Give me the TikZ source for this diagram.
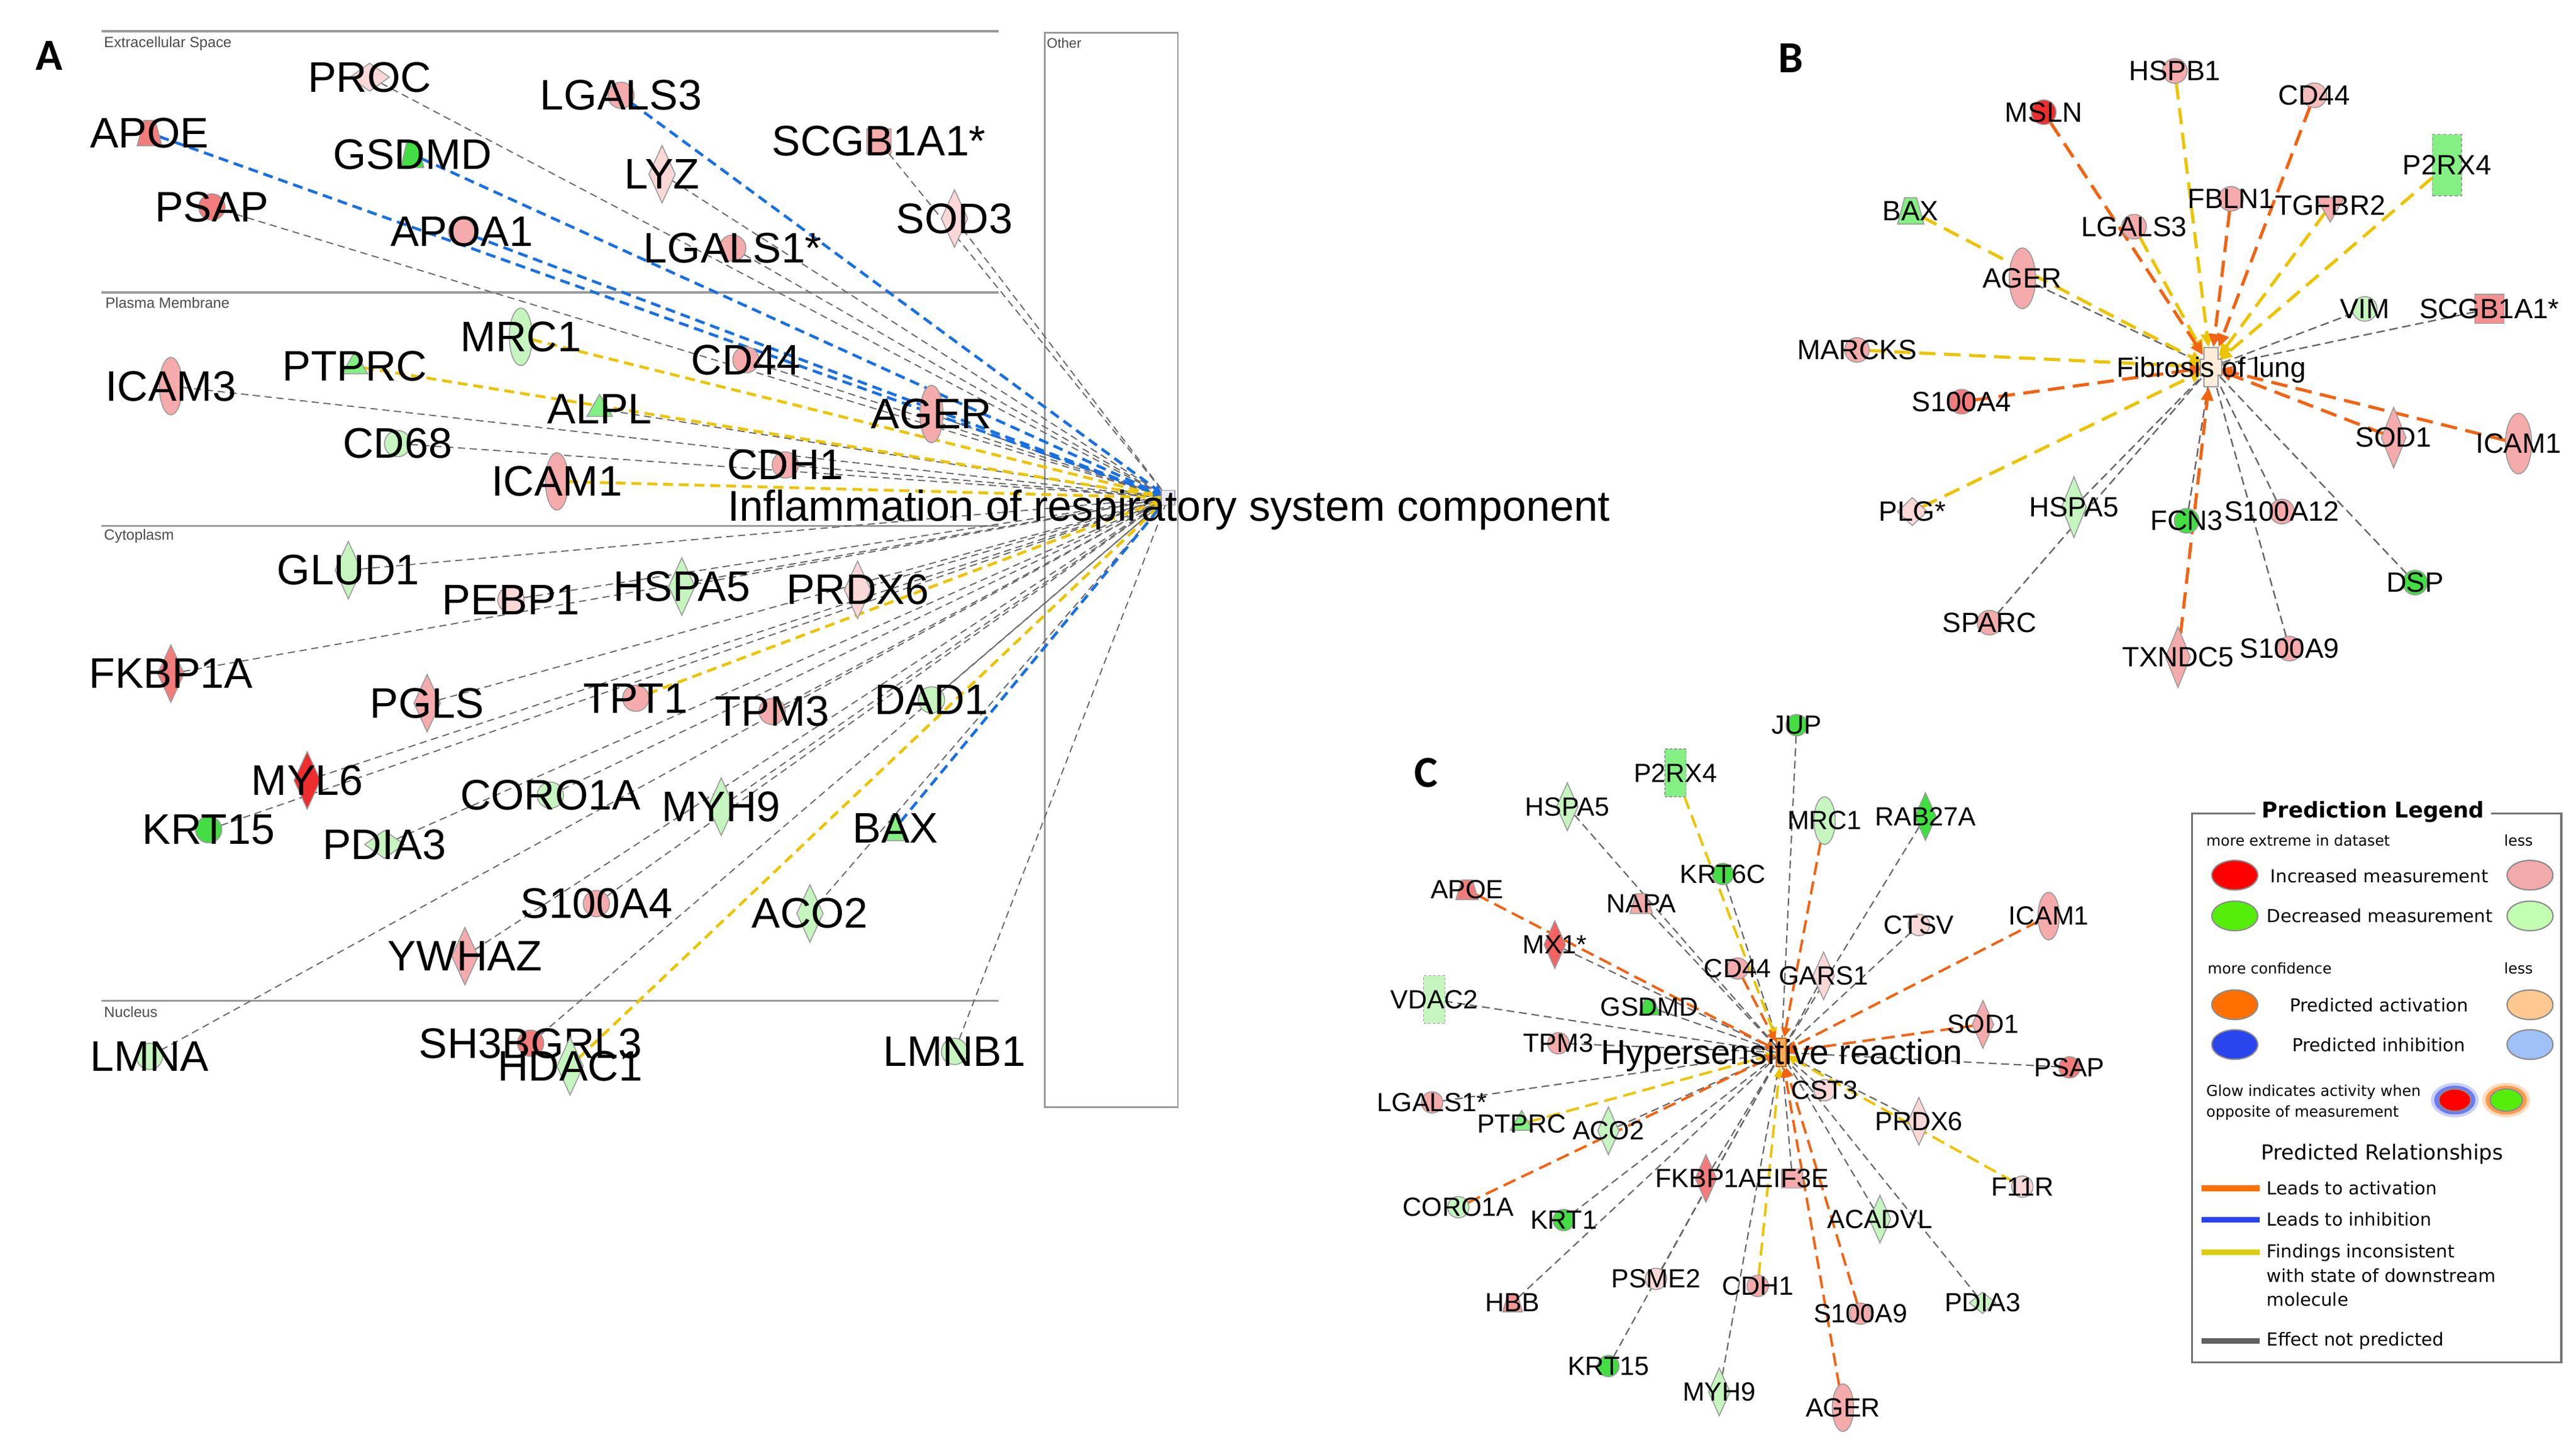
\documentclass[tikz,border=0pt]{standalone}
\usepackage{fontspec}
\setmainfont{Liberation Sans}
\newfontfamily\dvs{DejaVu Sans}
\newfontfamily\carl{Carlito}
\usetikzlibrary{shapes.geometric,arrows.meta}
\pgfdeclarelayer{bg}
\pgfdeclarelayer{edges}
\pgfsetlayers{bg,edges,main}
\definecolor{rd}{HTML}{EE2E2E}
\definecolor{sal}{HTML}{F27C7C}
\definecolor{pk}{HTML}{F5ABAB}
\definecolor{lpk}{HTML}{FBD8D8}
\definecolor{gr}{HTML}{44DD44}
\definecolor{mg}{HTML}{84F084}
\definecolor{lg}{HTML}{C6F5C0}
\definecolor{bordc}{HTML}{9A9A9A}
\definecolor{egray}{HTML}{666666}
\definecolor{eblue}{HTML}{1A6FE0}
\definecolor{eyel}{HTML}{EBC400}
\definecolor{eor}{HTML}{F06414}
\definecolor{lred}{HTML}{FF0000}
\definecolor{lpink}{HTML}{F2AAAA}
\definecolor{lgreen}{HTML}{55EE0A}
\definecolor{llgreen}{HTML}{C2FFB2}
\definecolor{lorange}{HTML}{FF7000}
\definecolor{llorange}{HTML}{FFC890}
\definecolor{lblue}{HTML}{2A44EE}
\definecolor{llblue}{HTML}{A0C0F8}
\definecolor{lyel}{HTML}{DCCB10}
\newcommand\gn[5]{\node[#2] (#1) at (#3) {};\node[#4] (#1t) at (#3) {#5};}
\tikzset{
  sh/.style={draw=bordc,line width=0.3pt,inner sep=0.25pt,outer sep=0pt},
  trap/.style={sh,trapezium,trapezium left angle=60,trapezium right angle=60,trapezium stretches=true},
  circA/.style={sh,circle,minimum size=8pt},
  ellA/.style={sh,ellipse,minimum width=7pt,minimum height=17.5pt},
  diaA/.style={sh,diamond,minimum width=8pt,minimum height=17.5pt},
  hdiaA/.style={sh,diamond,minimum width=12pt,minimum height=8.5pt},
  trapA/.style={trap,minimum width=7.5pt,minimum height=7.7pt},
  triA/.style={sh,regular polygon,regular polygon sides=3,minimum size=9pt},
  sqA/.style={sh,rectangle,minimum size=7.5pt},
  labA/.style={inner sep=0pt,font=\fontsize{13}{13}\selectfont},
  circB/.style={sh,circle,minimum size=7.5pt},
  ellB/.style={sh,ellipse,minimum width=8pt,minimum height=18.5pt},
  diaB/.style={sh,diamond,minimum width=7.5pt,minimum height=18.5pt},
  hdiaB/.style={sh,diamond,minimum width=9pt,minimum height=8.5pt},
  trapB/.style={trap,minimum width=8pt,minimum height=8pt},
  itriB/.style={sh,regular polygon,regular polygon sides=3,shape border rotate=180,minimum size=10pt},
  sqB/.style={sh,rectangle,minimum size=8.9pt},
  rectB/.style={sh,rectangle,dash pattern=on 1pt off 0.7pt,minimum width=8.9pt,minimum height=18.7pt},
  labB/.style={inner sep=0pt,font=\fontsize{8.5}{8.5}\selectfont},
  circC/.style={sh,circle,minimum size=6.5pt},
  ellC/.style={sh,ellipse,minimum width=6.5pt,minimum height=14.5pt},
  diaC/.style={sh,diamond,minimum width=6.5pt,minimum height=14.5pt},
  hdiaC/.style={sh,diamond,minimum width=8pt,minimum height=6.5pt},
  trapC/.style={trap,minimum width=6.8pt,minimum height=6pt},
  triC/.style={sh,regular polygon,regular polygon sides=3,minimum size=8pt},
  sqC/.style={sh,rectangle,minimum width=6.4pt,minimum height=5.8pt},
  rectC/.style={sh,rectangle,dash pattern=on 0.8pt off 0.6pt,minimum width=6.5pt,minimum height=14.5pt},
  labC/.style={inner sep=0pt,font=\fontsize{8}{8}\selectfont},
  comp/.style={draw=bordc,line width=0.6pt},
  comptext/.style={inner sep=0pt,anchor=west,text=black!70,font=\fontsize{4.5}{4.5}\selectfont},
  panel/.style={inner sep=0pt,font=\carl\bfseries\fontsize{13.5}{13.5}\selectfont},
  ga/.style={draw=egray,line width=0.35pt,dash pattern=on 2.2pt off 1.4pt},
  ba/.style={draw=eblue,line width=0.85pt,dash pattern=on 3pt off 1.8pt,-{Triangle[length=2.4pt,width=2.4pt]}},
  ya/.style={draw=eyel,line width=0.85pt,dash pattern=on 3pt off 1.8pt,-{Triangle[length=2.4pt,width=2.4pt]}},
  gb/.style={draw=egray,line width=0.45pt,dash pattern=on 2.6pt off 1.4pt},
  ob/.style={draw=eor,line width=0.95pt,dash pattern=on 5pt off 2.6pt,-{Triangle[length=4pt,width=3.6pt]}},
  yb/.style={draw=eyel,line width=0.95pt,dash pattern=on 5pt off 2.6pt,-{Triangle[length=4pt,width=3.6pt]}},
  gc/.style={draw=egray,line width=0.4pt,dash pattern=on 2.4pt off 1.4pt},
  oc/.style={draw=eor,line width=0.75pt,dash pattern=on 4pt off 2pt,-{Triangle[length=3pt,width=2.8pt]}},
  yc/.style={draw=eyel,line width=0.75pt,dash pattern=on 4pt off 2pt,-{Triangle[length=3pt,width=2.8pt]}},
  legell/.style={draw=black!45,line width=0.4pt,ellipse,minimum width=14pt,minimum height=9pt,inner sep=0.25pt},
  legtxt/.style={inner sep=0pt,font=\dvs\fontsize{5.45}{5.45}\selectfont},
  legsmall/.style={inner sep=0pt,font=\dvs\fontsize{4.5}{4.5}\selectfont},
  legline/.style={line width=1.7pt},
}
\begin{document}
\begin{tikzpicture}[x=0.5pt,y=-0.5pt]
\begin{pgfonlayer}{bg}
\fill[white] (0,0) rectangle (1568,883.8);
\end{pgfonlayer}
\useasboundingbox (0,0) rectangle (1568,883.8);

% ---------------- Panel A ----------------
\node[panel] (pA) at (30,34) {A};
\begin{pgfonlayer}{bg}
\draw[comp] (62,19) -- (608,19);
\draw[comp] (62,178) -- (608,178);
\draw[comp] (62,320) -- (608,320);
\draw[comp] (62,609) -- (608,609);
\draw[draw=bordc,line width=0.5pt] (636,20) rectangle (717,674);
\end{pgfonlayer}
\node[comptext] (tES) at (63,26.7) {Extracellular Space};
\node[comptext] (tPM) at (63.8,184.3) {Plasma Membrane};
\node[comptext] (tCY) at (63,326.5) {Cytoplasm};
\node[comptext] (tNU) at (63,615.9) {Nucleus};
\node[comptext,font=\fontsize{4.2}{4.2}\selectfont] (tOT) at (636.8,26.4) {Other};

\node[sh,rectangle,fill=blue!8,minimum width=4pt,minimum height=4.5pt] (aC) at (711,303) {};
\node[inner sep=0pt,anchor=base,font=\fontsize{13.1}{13.1}\selectfont] (aCt) at (711.5,317) {Inflammation of respiratory system component};

\gn{aPROC}{hdiaA,fill=lpk}{225,47}{labA}{PROC}
\gn{aAPOE}{trapA,fill=sal}{91,81}{labA}{APOE}
\gn{aLGALS3}{circA,fill=pk}{378,58}{labA}{LGALS3}
\gn{aGSDMD}{trapA,fill=gr,minimum width=7pt,minimum height=8pt}{251,94}{labA}{GSDMD}
\gn{aSCGB}{sqA,fill=pk}{535,86}{labA}{SCGB1A1*}
\gn{aLYZ}{diaA,fill=lpk}{403,106}{labA}{LYZ}
\gn{aPSAP}{circA,fill=sal}{129,126}{labA}{PSAP}
\gn{aSOD3}{diaA,fill=lpk}{581,133}{labA}{SOD3}
\gn{aAPOA1}{circA,fill=pk}{281,141}{labA}{APOA1}
\gn{aLGALS1}{circA,fill=pk}{446,151}{labA}{LGALS1*}
\gn{aMRC1}{ellA,fill=lg}{317,205}{labA}{MRC1}
\gn{aPTPRC}{triA,fill=mg}{216,223}{labA}{PTPRC}
\gn{aICAM3}{ellA,fill=pk}{104,235}{labA}{ICAM3}
\gn{aCD44}{circA,fill=pk}{454,219}{labA}{CD44}
\gn{aALPL}{triA,fill=mg}{365,249}{labA}{ALPL}
\gn{aAGER}{ellA,fill=pk}{567,252}{labA}{AGER}
\gn{aCD68}{circA,fill=lg}{242,270}{labA}{CD68}
\gn{aICAM1}{ellA,fill=pk}{339,293}{labA}{ICAM1}
\gn{aCDH1}{circA,fill=pk}{478,283}{labA}{CDH1}
\gn{aGLUD1}{diaA,fill=lg}{212,347}{labA}{GLUD1}
\gn{aPEBP1}{circA,fill=lpk}{311,365}{labA}{PEBP1}
\gn{aHSPA5}{diaA,fill=lg}{415,357}{labA}{HSPA5}
\gn{aPRDX6}{diaA,fill=lpk}{522,359}{labA}{PRDX6}
\gn{aFKBP1A}{diaA,fill=sal}{104,410}{labA}{FKBP1A}
\gn{aPGLS}{diaA,fill=pk}{260,428}{labA}{PGLS}
\gn{aTPT1}{circA,fill=pk}{387,425}{labA}{TPT1}
\gn{aTPM3}{circA,fill=pk}{470,433}{labA}{TPM3}
\gn{aDAD1}{circA,fill=lg}{567,426}{labA}{DAD1}
\gn{aMYL6}{diaA,fill=rd}{187,475}{labA}{MYL6}
\gn{aKRT15}{circA,fill=gr}{127,505}{labA}{KRT15}
\gn{aCORO1A}{circA,fill=lg}{335,484}{labA}{CORO1A}
\gn{aMYH9}{diaA,fill=lg}{439,491}{labA}{MYH9}
\gn{aBAX}{trapA,fill=mg,minimum width=5.3pt}{545,504}{labA}{BAX}
\gn{aPDIA3}{hdiaA,fill=lg}{234,514}{labA}{PDIA3}
\gn{aS100A4}{circA,fill=pk}{363,550}{labA}{S100A4}
\gn{aACO2}{diaA,fill=lg}{493,556}{labA}{ACO2}
\gn{aYWHAZ}{diaA,fill=pk}{283,582}{labA}{YWHAZ}
\gn{aLMNA}{circA,fill=lg}{91,643}{labA}{LMNA}
\gn{aSH3BGRL3}{circA,fill=sal}{323,635}{labA}{SH3BGRL3}
\gn{aHDAC1}{diaA,fill=lg}{347,649}{labA}{HDAC1}
\gn{aLMNB1}{circA,fill=lg}{581,640}{labA}{LMNB1}

\begin{pgfonlayer}{edges}
\foreach \n in {aPROC,aSCGB,aLYZ,aPSAP,aSOD3,aLGALS1,aICAM3,aCD44,aALPL,aAGER,aCD68,aCDH1,aGLUD1,aPEBP1,aHSPA5,aPRDX6,aFKBP1A,aPGLS,aTPM3,aDAD1,aMYL6,aKRT15,aCORO1A,aMYH9,aPDIA3,aS100A4,aACO2,aYWHAZ,aLMNA,aSH3BGRL3,aLMNB1}
  \draw[ga] (\n) -- (aC);
\foreach \n in {aMRC1,aPTPRC,aICAM1,aTPT1,aHDAC1}
  \draw[ya] (\n) -- (aC);
\foreach \n in {aAPOE,aGSDMD,aLGALS3,aAPOA1,aBAX}
  \draw[ba] (\n) -- (aC);
\end{pgfonlayer}

% ---------------- Panel B ----------------
\node[panel] (pB) at (1090,35.5) {B};
\node[inner sep=0pt,minimum width=4.4pt,minimum height=11.8pt] (bC) at (1345.8,223.5) {};
\filldraw[fill=orange!15,draw=bordc,line width=0.4pt]
  (1341.4,211.7) -- (1350.2,211.7) -- (1350.2,218.5) -- (1352.3,218.5) -- (1352.3,228.5) -- (1350.2,228.5) -- (1350.2,235.3) -- (1341.4,235.3) -- (1341.4,228.5) -- (1339.3,228.5) -- (1339.3,218.5) -- (1341.4,218.5) -- cycle;
\node[inner sep=0pt,anchor=base,font=\fontsize{8.5}{8.5}\selectfont] (bCt) at (1346,229.5) {Fibrosis of lung};

\gn{bHSPB1}{circB,fill=pk}{1323.8,43.2}{labB}{HSPB1}
\gn{bMSLN}{circB,fill=rd}{1244,68.3}{labB}{MSLN}
\gn{bCD44}{circB,fill=pk!80}{1408.7,58}{labB}{CD44}
\gn{bP2RX4}{rectB,fill=mg}{1489.5,100.5}{labB}{P2RX4}
\gn{bBAX}{trapB,fill=mg}{1163,128.4}{labB}{BAX}
\gn{bFBLN1}{circB,fill=pk}{1358,121}{labB}{FBLN1}
\gn{bTGFBR2}{itriB,fill=pk}{1418.4,125.2}{labB}{TGFBR2}
\gn{bLGALS3}{circB,fill=pk}{1299,138}{labB}{LGALS3}
\gn{bAGER}{ellB,fill=pk}{1231,169.4}{labB}{AGER}
\gn{bVIM}{circB,fill=lg}{1439.4,188}{labB}{VIM}
\gn{bSCGB}{sqB,fill=sal!85}{1515.3,188}{labB}{SCGB1A1*}
\gn{bMARCKS}{circB,fill=pk}{1130.3,213}{labB}{MARCKS}
\gn{bS100A4}{circB,fill=sal}{1194,244.5}{labB}{S100A4}
\gn{bSOD1}{diaB,fill=pk}{1457,266.4}{labB}{SOD1}
\gn{bICAM1}{ellB,fill=pk}{1533,270}{labB}{ICAM1}
\gn{bPLG}{hdiaB,fill=lpk}{1164,311.4}{labB}{PLG*}
\gn{bHSPA5}{diaB,fill=lg}{1262.4,308.7}{labB}{HSPA5}
\gn{bFCN3}{circB,fill=gr}{1331,317}{labB}{FCN3}
\gn{bS100A12}{circB,fill=pk}{1389,311.4}{labB}{S100A12}
\gn{bDSP}{circB,fill=gr}{1470,354.6}{labB}{DSP}
\gn{bSPARC}{circB,fill=pk}{1211,379}{labB}{SPARC}
\gn{bTXNDC5}{diaB,fill=pk}{1325.7,400}{labB}{TXNDC5}
\gn{bS100A9}{circB,fill=pk}{1393.6,394.8}{labB}{S100A9}

\begin{pgfonlayer}{edges}
\foreach \n in {bAGER,bVIM,bSCGB,bHSPA5,bFCN3,bS100A12,bDSP,bSPARC,bS100A9}
  \draw[gb] (\n) -- (bC);
\foreach \n in {bHSPB1,bP2RX4,bBAX,bTGFBR2,bLGALS3,bMARCKS,bPLG}
  \draw[yb] (\n) -- (bC);
\foreach \n in {bMSLN,bCD44,bFBLN1,bS100A4,bSOD1,bICAM1,bTXNDC5}
  \draw[ob] (\n) -- (bC);
\end{pgfonlayer}

% ---------------- Panel C ----------------
\node[panel] (pC) at (868,470.5) {C};
\node[draw=orange!80!black,fill=orange!65,line width=0.4pt,inner sep=0.25pt,minimum width=3pt,minimum height=8.7pt] (cC) at (1084.3,640.6) {};
\node[inner sep=0pt,anchor=base,font=\fontsize{10.6}{10.6}\selectfont] (cCt) at (1084.5,648) {Hypersensitive reaction};

\gn{cJUP}{circC,fill=gr}{1093.6,441.4}{labC}{JUP}
\gn{cP2RX4}{rectC,fill=mg}{1019.8,470.4}{labC}{P2RX4}
\gn{cHSPA5}{diaC,fill=lg}{954,491}{labC}{HSPA5}
\gn{cMRC1}{ellC,fill=lg}{1110.6,499.5}{labC}{MRC1}
\gn{cRAB27A}{diaC,fill=gr!90!green}{1172,497}{labC}{RAB27A}
\gn{cKRT6C}{circC,fill=gr}{1048.7,532}{labC}{KRT6C}
\gn{cAPOE}{trapC,fill=sal}{893,541.6}{labC}{APOE}
\gn{cNAPA}{trapC,fill=pk}{999,550}{labC}{NAPA}
\gn{cMX1}{diaC,fill=sal!80!red}{946.4,575}{labC}{MX1*}
\gn{cCTSV}{circC,fill=lpk}{1168,563}{labC}{CTSV}
\gn{cICAM1}{ellC,fill=pk}{1247,557.6}{labC}{ICAM1}
\gn{cCD44}{circC,fill=pk}{1057.7,589.5}{labC}{CD44}
\gn{cGARS1}{diaC,fill=lpk}{1110,594}{labC}{GARS1}
\gn{cVDAC2}{rectC,fill=lg}{873,608.4}{labC}{VDAC2}
\gn{cGSDMD}{trapC,fill=gr,minimum width=6.3pt,minimum height=4.8pt}{1004,613}{labC}{GSDMD}
\gn{cSOD1}{diaC,fill=pk}{1207,623.5}{labC}{SOD1}
\gn{cTPM3}{circC,fill=pk}{948.6,635}{labC}{TPM3}
\gn{cPSAP}{circC,fill=sal}{1259.7,649.7}{labC}{PSAP}
\gn{cCST3}{circC,fill=lpk}{1110.6,663.6}{labC}{CST3}
\gn{cLGALS1}{circC,fill=pk}{871.7,671}{labC}{LGALS1*}
\gn{cPTPRC}{triC,fill=mg}{926.2,684}{labC}{PTPRC}
\gn{cACO2}{diaC,fill=lg}{979,688.3}{labC}{ACO2}
\gn{cPRDX6}{diaC,fill=lpk}{1168,682.5}{labC}{PRDX6}
\gn{cFKBP1A}{diaC,fill=sal}{1038.4,717.3}{labC}{FKBP1A}
\gn{cEIF3E}{sqC,fill=pk}{1091,717.3}{labC}{EIF3E}
\gn{cF11R}{circC,fill=lpk}{1231,722.3}{labC}{F11R}
\gn{cCORO1A}{circC,fill=lg}{887.7,734.8}{labC}{CORO1A}
\gn{cKRT1}{circC,fill=gr}{951.8,742.6}{labC}{KRT1}
\gn{cACADVL}{diaC,fill=lg}{1144.3,742}{labC}{ACADVL}
\gn{cHBB}{trapC,fill=sal!80,minimum width=6pt,minimum height=5.5pt}{920.7,793}{labC}{HBB}
\gn{cPSME2}{circC,fill=lpk}{1008,778.4}{labC}{PSME2}
\gn{cCDH1}{circC,fill=pk}{1069.9,782.7}{labC}{CDH1}
\gn{cS100A9}{circC,fill=pk}{1132.4,799.6}{labC}{S100A9}
\gn{cPDIA3}{hdiaC,fill=lg}{1206.8,793}{labC}{PDIA3}
\gn{cKRT15}{circC,fill=gr}{979,831.5}{labC}{KRT15}
\gn{cMYH9}{diaC,fill=lg}{1046.5,847.2}{labC}{MYH9}
\gn{cAGER}{ellC,fill=pk}{1121.8,856.8}{labC}{AGER}

\begin{pgfonlayer}{edges}
\foreach \n in {cJUP,cHSPA5,cRAB27A,cKRT6C,cNAPA,cMX1,cCTSV,cGARS1,cVDAC2,cGSDMD,cTPM3,cPSAP,cCST3,cLGALS1,cACO2,cPRDX6,cFKBP1A,cEIF3E,cKRT1,cACADVL,cHBB,cPSME2,cPDIA3,cKRT15,cMYH9}
  \draw[gc] (\n) -- (cC);
\foreach \n in {cP2RX4,cPTPRC,cCDH1,cF11R}
  \draw[yc] (\n) -- (cC);
\foreach \n in {cAPOE,cMRC1,cICAM1,cCD44,cSOD1,cCORO1A,cS100A9,cAGER}
  \draw[oc] (\n) -- (cC);
\end{pgfonlayer}

% ---------------- Legend ----------------
\draw[draw=black!55,line width=0.6pt] (1334.4,495.2) rectangle (1559,829.2);
\node[fill=white,inner xsep=2pt,inner ysep=0.6pt,font=\dvs\bfseries\fontsize{6.6}{6.6}\selectfont] (lgT) at (1444.5,494.3) {Prediction Legend};
\node[legsmall,anchor=west] (lgS1) at (1342.6,511.7) {more extreme in dataset};
\node[legsmall] (lgS2) at (1533,511.7) {less};
\node[legell,fill=lred] (lgE1) at (1360.3,532.7) {};
\node[legtxt] (lgT1) at (1448.4,533) {Increased measurement};
\node[legell,fill=lpink] (lgE2) at (1540,532.7) {};
\node[legell,fill=lgreen] (lgE3) at (1360.3,557.5) {};
\node[legtxt] (lgT2) at (1448.5,557.5) {Decreased measurement};
\node[legell,fill=llgreen] (lgE4) at (1540,557.5) {};
\node[legsmall,anchor=west] (lgS3) at (1343.4,589.5) {more confidence};
\node[legsmall] (lgS4) at (1533,589.5) {less};
\node[legell,fill=lorange] (lgE5) at (1360.3,611.6) {};
\node[legtxt] (lgT3) at (1448,611.6) {Predicted activation};
\node[legell,fill=llorange] (lgE6) at (1540,611.6) {};
\node[legell,fill=lblue] (lgE7) at (1360.3,635.8) {};
\node[legtxt] (lgT4) at (1448,635.8) {Predicted inhibition};
\node[legell,fill=llblue] (lgE8) at (1540,635.8) {};
\node[legsmall,font=\dvs\fontsize{4.55}{6.25}\selectfont,anchor=north west,align=left] (lgG) at (1342.6,660) {Glow indicates activity when\\opposite of measurement};
\node[ellipse,fill=lblue,opacity=0.25,minimum width=14.5pt,minimum height=10.5pt,inner sep=0.25pt] (lgG1a) at (1494.2,669.6) {};
\node[ellipse,fill=lblue,opacity=0.6,minimum width=12.5pt,minimum height=8.8pt,inner sep=0.25pt] (lgG1b) at (1494.2,669.6) {};
\node[legell,fill=lred,minimum width=9.8pt,minimum height=6.8pt] (lgG1) at (1494.2,669.6) {};
\node[ellipse,fill=lorange,opacity=0.25,minimum width=14.5pt,minimum height=10.5pt,inner sep=0.25pt] (lgG2a) at (1525.5,669.6) {};
\node[ellipse,fill=lorange,opacity=0.6,minimum width=12.5pt,minimum height=8.8pt,inner sep=0.25pt] (lgG2b) at (1525.5,669.6) {};
\node[legell,fill=lgreen,minimum width=9.8pt,minimum height=6.8pt] (lgG2) at (1525.5,669.6) {};
\node[inner sep=0pt,font=\dvs\fontsize{6.3}{6.3}\selectfont] (lgR) at (1450,702.4) {Predicted Relationships};
\coordinate (l1a) at (1340.2,723.3); \coordinate (l1b) at (1375.5,723.3);
\coordinate (l2a) at (1340.2,742.3); \coordinate (l2b) at (1375.5,742.3);
\coordinate (l3a) at (1340.2,762.2); \coordinate (l3b) at (1375.5,762.2);
\coordinate (l4a) at (1340.2,816.3); \coordinate (l4b) at (1375.5,816.3);
\draw[legline,draw=lorange] (l1a) -- (l1b);
\draw[legline,draw=lblue] (l2a) -- (l2b);
\draw[legline,draw=lyel] (l3a) -- (l3b);
\draw[legline,draw=black!62] (l4a) -- (l4b);
\node[legtxt,anchor=west] (lgL1) at (1379.4,723.3) {Leads to activation};
\node[legtxt,anchor=west] (lgL2) at (1379.4,742.3) {Leads to inhibition};
\node[legtxt,font=\dvs\fontsize{5.45}{7.35}\selectfont,anchor=north west,align=left] (lgL3) at (1379.4,757) {Findings inconsistent\\with state of downstream\\molecule};
\node[legtxt,anchor=west] (lgL4) at (1379.4,816.3) {Effect not predicted};
\end{tikzpicture}
\end{document}
